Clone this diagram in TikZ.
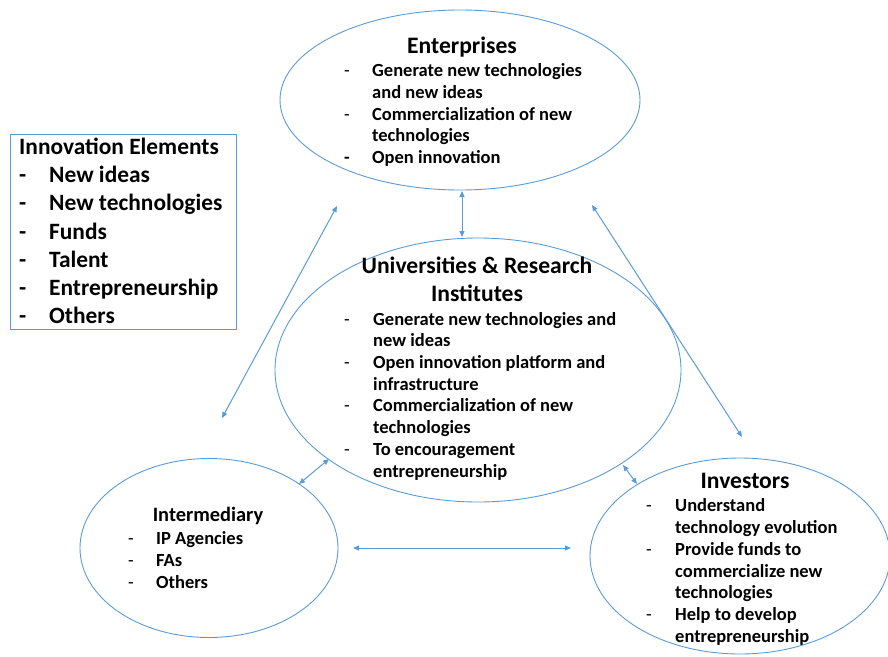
\documentclass[tikz,border=0pt]{standalone}
\usepackage{fontspec}
\setmainfont{Carlito}
\usetikzlibrary{shapes.geometric,arrows.meta}
\definecolor{lineblue}{RGB}{91,155,213}
\newcommand\itm[2][29pt]{\makebox[#1][l]{\mdseries -}#2}
\newcommand\itmbold[2][29pt]{\makebox[#1][l]{-}#2}
\newcommand\itmcont[2][29pt]{\hspace*{#1}#2}

\tikzset{
  actor/.style={draw=lineblue, line width=0.9pt, ellipse, inner sep=0pt},
  twoway/.style={draw=lineblue, line width=1pt, {Triangle[length=6pt,width=5pt]}-{Triangle[length=6pt,width=5pt]}},
  heading/.style={font=\bfseries\fontsize{23.6}{28.3}\selectfont, inner sep=0pt},
  points/.style={font=\bfseries\fontsize{18.5}{21.7}\selectfont, align=left, inner sep=0pt, anchor=north west},
}

\begin{document}
\begin{tikzpicture}[x=1pt,y=-1pt]
		%%%%% START %%%%%
		\useasboundingbox (0,0) rectangle (888,656);
		
		\node[actor, minimum width=360pt, minimum height=180pt] (ent) at (460,100) {};
		\node[actor, minimum width=406pt, minimum height=264pt] (uni) at (478,370) {};
		\node[actor, minimum width=258pt, minimum height=179pt] (inter) at (209,548) {};
		\node[actor, minimum width=300pt, minimum height=196pt] (inv) at (740,556) {};
		
		\node[draw=lineblue, line width=0.9pt, anchor=north west, minimum width=226pt, minimum height=195pt, inner sep=0pt] (elembox) at (10,134) {};
		\node[points, font=\bfseries\fontsize{23.4}{28.17}\selectfont] (elemtext) at (19,134.6) {\strut Innovation Elements\\
			\itmbold[30pt]{New ideas}\\
			\itmbold[30pt]{New technologies}\\
			\itmbold[30pt]{Funds}\\
			\itmbold[30pt]{Talent}\\
			\itmbold[30pt]{Entrepreneurship}\\
			\itmbold[30pt]{Others}};
		
		\node[heading, anchor=base] (enttitle) at (462,53.3) {Enterprises};
		\node[points] (entitems) at (344,61.5) {\strut\itm[28pt]{Generate new technologies}\\
			\itmcont[28pt]{and new ideas}\\
			\itm[28pt]{Commercialization of new}\\
			\itmcont[28pt]{technologies}\\
			\itmbold[28pt]{Open innovation}};
		
		\node[heading, align=center, anchor=north] (unititle) at (477,253.5) {\strut Universities \& Research\\Institutes};
		\node[points] (uniitems) at (344,309.8) {\strut\itm{Generate new technologies and}\\
			\itmcont{new ideas}\\
			\itm{Open innovation platform and}\\
			\itmcont{infrastructure}\\
			\itm{Commercialization of new}\\
			\itmcont{technologies}\\
			\itm{To encouragement}\\
			\itmcont{entrepreneurship}};
		
		\node[heading, font=\bfseries\fontsize{20.4}{26}\selectfont, anchor=base] (intertitle) at (208,521.7) {Intermediary};
		\node[points, font=\bfseries\fontsize{18.5}{22}\selectfont] (interitems) at (128,528.9) {\strut\itm[28pt]{IP Agencies}\\
			\itm[28pt]{FAs}\\
			\itm[28pt]{Others}};
		
		\node[heading, anchor=base] (invtitle) at (745,488.3) {Investors};
		\node[points] (invitems) at (646,496.5) {\strut\itm{Understand}\\
			\itmcont{technology evolution}\\
			\itm{Provide funds to}\\
			\itmcont{commercialize new}\\
			\itmcont{technologies}\\
			\itm{Help to develop}\\
			\itmcont{entrepreneurship}};
		
		% connector ends
		\coordinate (entdown) at (462,191);
		\coordinate (uniup) at (462,237);
		\coordinate (leftup) at (337,206);
		\coordinate (leftdown) at (222,418);
		\coordinate (rightup) at (592,205);
		\coordinate (rightdown) at (742,437);
		\coordinate (uniinv) at (623,465);
		\coordinate (invuni) at (637,484);
		\coordinate (uniint) at (329,459);
		\coordinate (intuni) at (299,484);
		\coordinate (intinv) at (353,548);
		\coordinate (invint) at (571,548);
		
		\draw[twoway] (entdown) -- (uniup);
		\draw[twoway] (leftup) -- (leftdown);
		\draw[twoway] (rightup) -- (rightdown);
		\draw[twoway] (uniinv) -- (invuni);
		\draw[twoway] (uniint) -- (intuni);
		\draw[twoway] (intinv) -- (invint);
		
		%%%%% END %%%%%
	\end{tikzpicture}
\end{document}
